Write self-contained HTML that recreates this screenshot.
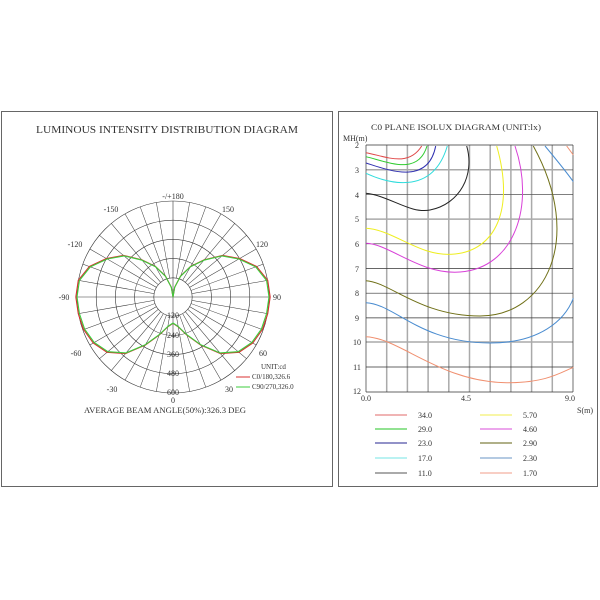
<!DOCTYPE html>
<html><head><meta charset="utf-8"><style>
html,body{margin:0;padding:0;background:#fff;}
svg{display:block;}
text{font-family:"Liberation Serif",serif;fill:#333;}
</style></head><body>
<svg width="600" height="600" viewBox="0 0 600 600" xmlns="http://www.w3.org/2000/svg">
<rect x="1.5" y="111.5" width="331" height="375" fill="#fff" stroke="#666" stroke-width="1"/>
<rect x="338.5" y="111.5" width="259" height="375" fill="#fff" stroke="#666" stroke-width="1"/>
<text x="167" y="133" font-size="11" text-anchor="middle" textLength="262" lengthAdjust="spacingAndGlyphs" fill="#222">LUMINOUS INTENSITY DISTRIBUTION DIAGRAM</text>

<!-- polar grid -->
<g fill="none" stroke="#333" stroke-width="0.6">
<circle cx="173" cy="297" r="96"/>
<circle cx="173" cy="297" r="76.8"/>
<circle cx="173" cy="297" r="57.6"/>
<circle cx="173" cy="297" r="38.4"/>
<circle cx="173" cy="297" r="19.2"/>
<line x1="77" y1="297" x2="269" y2="297"/>
<line x1="173" y1="201" x2="173" y2="393"/>
</g>
<g transform="translate(173 297)" stroke="#333" stroke-width="0.5">
<line x1="0" y1="19.2" x2="0" y2="96" transform="rotate(10)"/>
<line x1="0" y1="19.2" x2="0" y2="96" transform="rotate(20)"/>
<line x1="0" y1="19.2" x2="0" y2="96" transform="rotate(30)"/>
<line x1="0" y1="19.2" x2="0" y2="96" transform="rotate(40)"/>
<line x1="0" y1="19.2" x2="0" y2="96" transform="rotate(50)"/>
<line x1="0" y1="19.2" x2="0" y2="96" transform="rotate(60)"/>
<line x1="0" y1="19.2" x2="0" y2="96" transform="rotate(70)"/>
<line x1="0" y1="19.2" x2="0" y2="96" transform="rotate(80)"/>
<line x1="0" y1="19.2" x2="0" y2="96" transform="rotate(100)"/>
<line x1="0" y1="19.2" x2="0" y2="96" transform="rotate(110)"/>
<line x1="0" y1="19.2" x2="0" y2="96" transform="rotate(120)"/>
<line x1="0" y1="19.2" x2="0" y2="96" transform="rotate(130)"/>
<line x1="0" y1="19.2" x2="0" y2="96" transform="rotate(140)"/>
<line x1="0" y1="19.2" x2="0" y2="96" transform="rotate(150)"/>
<line x1="0" y1="19.2" x2="0" y2="96" transform="rotate(160)"/>
<line x1="0" y1="19.2" x2="0" y2="96" transform="rotate(170)"/>
<line x1="0" y1="19.2" x2="0" y2="96" transform="rotate(190)"/>
<line x1="0" y1="19.2" x2="0" y2="96" transform="rotate(200)"/>
<line x1="0" y1="19.2" x2="0" y2="96" transform="rotate(210)"/>
<line x1="0" y1="19.2" x2="0" y2="96" transform="rotate(220)"/>
<line x1="0" y1="19.2" x2="0" y2="96" transform="rotate(230)"/>
<line x1="0" y1="19.2" x2="0" y2="96" transform="rotate(240)"/>
<line x1="0" y1="19.2" x2="0" y2="96" transform="rotate(250)"/>
<line x1="0" y1="19.2" x2="0" y2="96" transform="rotate(260)"/>
<line x1="0" y1="19.2" x2="0" y2="96" transform="rotate(280)"/>
<line x1="0" y1="19.2" x2="0" y2="96" transform="rotate(290)"/>
<line x1="0" y1="19.2" x2="0" y2="96" transform="rotate(300)"/>
<line x1="0" y1="19.2" x2="0" y2="96" transform="rotate(310)"/>
<line x1="0" y1="19.2" x2="0" y2="96" transform="rotate(320)"/>
<line x1="0" y1="19.2" x2="0" y2="96" transform="rotate(330)"/>
<line x1="0" y1="19.2" x2="0" y2="96" transform="rotate(340)"/>
<line x1="0" y1="19.2" x2="0" y2="96" transform="rotate(350)"/>
</g>

<!-- curves -->
<g fill="none" stroke-width="1.1" stroke-linejoin="round">
<path stroke="#d83030" transform="translate(173 297) scale(1.012) translate(-173 -297)" d="M173,323 L178.2,326.5 186.7,334.6 200.5,344.6 219.9,352.9 238.1,351.7 251.8,342.5 261.4,329.1 266.6,313.5 269,297 266.6,280.5 255.7,266.9 238.8,259 222,255.9 203.9,260.2 190.5,266.7 180.5,276.3 174.7,287.2 173,297 171.3,287.2 165.5,276.3 155.5,266.7 142.1,260.2 124,255.9 107.2,259 90.3,266.9 79.4,280.5 77,297 79.4,313.5 84.6,329.1 94.2,342.5 107.9,351.7 126.1,352.9 145.5,344.6 159.3,334.6 167.8,326.5 173,323"/>
<path stroke="#3ccc3c" d="M173,323 L178.2,326.5 186.7,334.6 200.5,344.6 219.9,352.9 238.1,351.7 251.8,342.5 261.4,329.1 266.6,313.5 269,297 266.6,280.5 255.7,266.9 238.8,259 222,255.9 203.9,260.2 190.5,266.7 180.5,276.3 174.7,287.2 173,297 171.3,287.2 165.5,276.3 155.5,266.7 142.1,260.2 124,255.9 107.2,259 90.3,266.9 79.4,280.5 77,297 79.4,313.5 84.6,329.1 94.2,342.5 107.9,351.7 126.1,352.9 145.5,344.6 159.3,334.6 167.8,326.5 173,323"/>
</g>

<g font-size="8" text-anchor="middle">
<text x="173" y="199">-/+180</text>
<text x="228" y="212">150</text>
<text x="111" y="212">-150</text>
<text x="262" y="247">120</text>
<text x="75" y="247">-120</text>
<text x="277" y="300">90</text>
<text x="64" y="300">-90</text>
<text x="263" y="356">60</text>
<text x="76" y="356">-60</text>
<text x="229" y="392">30</text>
<text x="112" y="392">-30</text>
<text x="173" y="318">120</text>
<text x="173" y="338">240</text>
<text x="173" y="357">360</text>
<text x="173" y="376">480</text>
<text x="173" y="395">600</text>
<text x="173" y="403">0</text>
<text x="165" y="413" font-size="8.5" textLength="162" lengthAdjust="spacingAndGlyphs">AVERAGE BEAM ANGLE(50%):326.3 DEG</text>
</g>
<g font-size="7">
<text x="261" y="369">UNIT:cd</text>
<text x="252" y="379">C0/180,326.6</text>
<text x="252" y="389">C90/270,326.0</text>
</g>
<line x1="236" y1="377" x2="250" y2="377" stroke="#d83030" stroke-width="1"/>
<line x1="236" y1="387" x2="250" y2="387" stroke="#3ccc3c" stroke-width="1"/>

<!-- isolux -->
<text x="456" y="130" font-size="8.5" text-anchor="middle" textLength="170" lengthAdjust="spacingAndGlyphs">C0 PLANE ISOLUX DIAGRAM (UNIT:lx)</text>
<text x="343" y="141" font-size="8">MH(m)</text>
<g stroke="#aaa" stroke-width="1.5">
<line x1="386.7" y1="145" x2="386.7" y2="392"/><line x1="407.4" y1="145" x2="407.4" y2="392"/>
<line x1="428.1" y1="145" x2="428.1" y2="392"/><line x1="448.8" y1="145" x2="448.8" y2="392"/>
<line x1="469.5" y1="145" x2="469.5" y2="392"/><line x1="490.2" y1="145" x2="490.2" y2="392"/>
<line x1="510.9" y1="145" x2="510.9" y2="392"/><line x1="531.6" y1="145" x2="531.6" y2="392"/>
<line x1="552.3" y1="145" x2="552.3" y2="392"/>
<line x1="366" y1="169.7" x2="573" y2="169.7"/><line x1="366" y1="194.4" x2="573" y2="194.4" stroke="#555" stroke-width="0.8"/>
<line x1="366" y1="219.1" x2="573" y2="219.1"/><line x1="366" y1="342" x2="573" y2="342"/>
</g>
<g stroke="#333" stroke-width="0.7">
<line x1="366" y1="145" x2="573" y2="145"/>
<line x1="366" y1="243.8" x2="573" y2="243.8"/><line x1="366" y1="268.5" x2="573" y2="268.5"/>
<line x1="366" y1="293.2" x2="573" y2="293.2"/><line x1="366" y1="317.9" x2="573" y2="317.9"/>
<line x1="366" y1="367" x2="573" y2="367"/><line x1="366" y1="392" x2="573" y2="392"/>
<line x1="366" y1="145" x2="366" y2="392"/><line x1="573" y1="145" x2="573" y2="392"/>
</g>
<g fill="none" stroke-width="1">
<path stroke="#e04848" d="M366,152.7 C385,156 408,168 421.7,146"/>
<path stroke="#30cc30" d="M366,156.7 C388,162 418,176 427,146"/>
<path stroke="#3030b0" d="M366,163 C388,170 428,186 435.7,146"/>
<path stroke="#30dcdc" d="M366,173.3 C385,182 432,198 447.3,146"/>
<path stroke="#222" d="M366,193.3 C390,196 410,214 430,210 C460,204 475,175 466.7,146"/>
<path stroke="#eeee20" d="M366,228.3 C395,230 420,258 455,254 C495,250 515,210 496.7,146"/>
<path stroke="#d840d8" d="M366,243.3 C390,244 420,275 460,272 C515,268 535,205 515,146"/>
<path stroke="#707018" d="M366,280.7 C390,282 420,316 480,316 C545,316 585,240 533.3,146"/>
<path stroke="#4a8cd0" d="M366,302.7 C395,304 420,343 490,343 C540,343 565,320 573.3,298.3"/>
<path stroke="#4a8cd0" d="M545,146 C555,158 565,170 573.3,181.7"/>
<path stroke="#f09070" d="M366,336.7 C400,338 440,382 506.7,382.7 C545,383 560,373 573.3,367.3"/>
<path stroke="#f09070" d="M566.7,146 L573.3,155"/>
</g>
<g font-size="8" text-anchor="middle">
<text x="357" y="148">2</text><text x="357" y="173">3</text><text x="357" y="198">4</text>
<text x="357" y="222">5</text><text x="357" y="247">6</text><text x="357" y="272">7</text>
<text x="357" y="296">8</text><text x="357" y="321">9</text><text x="357" y="345">10</text>
<text x="357" y="370">11</text><text x="357" y="394">12</text>
<text x="366" y="401">0.0</text><text x="466" y="401">4.5</text><text x="570" y="401">9.0</text>
<text x="585" y="413">S(m)</text>
</g>
<g stroke-width="1.3">
<line x1="375" y1="415" x2="407" y2="415" stroke="#e88888"/>
<line x1="375" y1="429" x2="407" y2="429" stroke="#50d050"/>
<line x1="375" y1="443" x2="407" y2="443" stroke="#5050a8"/>
<line x1="375" y1="458" x2="407" y2="458" stroke="#90eaea"/>
<line x1="375" y1="473" x2="407" y2="473" stroke="#777"/>
<line x1="480" y1="415" x2="512" y2="415" stroke="#f4f070"/>
<line x1="480" y1="429" x2="512" y2="429" stroke="#e070e0"/>
<line x1="480" y1="443" x2="512" y2="443" stroke="#808040"/>
<line x1="480" y1="458" x2="512" y2="458" stroke="#88aad0"/>
<line x1="480" y1="473" x2="512" y2="473" stroke="#f4b0a0"/>
</g>
<g font-size="8">
<text x="418" y="418">34.0</text><text x="418" y="432">29.0</text><text x="418" y="446">23.0</text>
<text x="418" y="461">17.0</text><text x="418" y="476">11.0</text>
<text x="523" y="418">5.70</text><text x="523" y="432">4.60</text><text x="523" y="446">2.90</text>
<text x="523" y="461">2.30</text><text x="523" y="476">1.70</text>
</g>
</svg>
</body></html>
